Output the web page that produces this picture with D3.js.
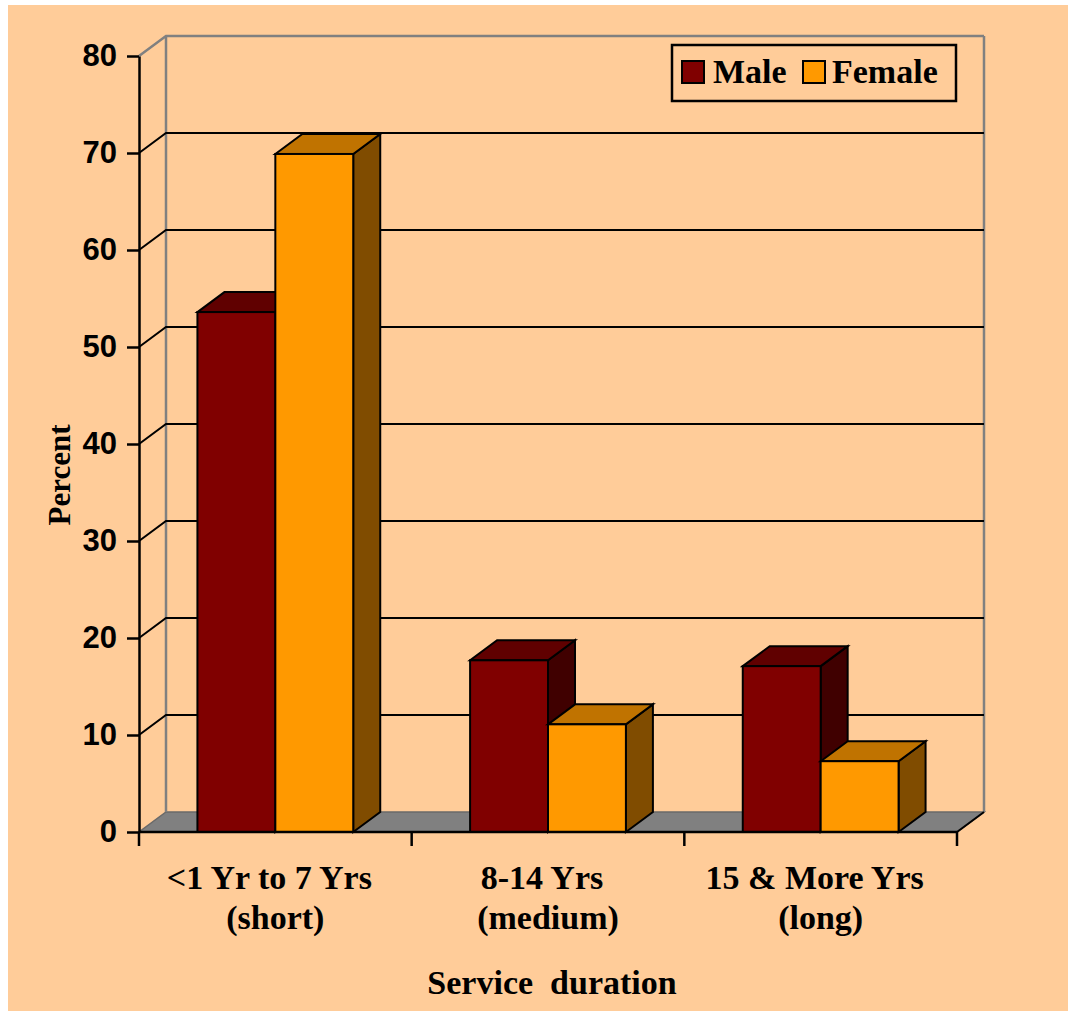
<!DOCTYPE html>
<html>
<head>
<meta charset="utf-8">
<script src="https://cdn.jsdelivr.net/npm/d3@7"></script>
<style>
  html, body { margin: 0; padding: 0; background: #ffffff; }
  svg { display: block; }
</style>
</head>
<body>
<svg id="chart" width="1068" height="1011"></svg>
<script>
// Service duration by gender (percent)
const categories = ["<1 Yr to 7 Yrs|(short)", "8-14 Yrs|(medium)", "15 & More Yrs|(long)"];
const seriesNames = ["Male", "Female"];
const maleValues = [53.6, 17.7, 17.1];
const femaleValues = [69.9, 11.1, 7.3];
const yTicks = [0, 10, 20, 30, 40, 50, 60, 70, 80];

const colors = {
  Male:   { front: "#800000", top: "#600000", side: "#400000" },
  Female: { front: "#FF9900", top: "#C07300", side: "#804C00" }
};

const svg = d3.select("#chart");
const W = 1068, H = 1011;

// page background
svg.append("rect").attr("x", 8).attr("y", 5).attr("width", W - 8).attr("height", H - 5)
  .attr("fill", "#FFCC99");

// 3D depth offset
const DX = 27, DY = -20;
const left = 139, right = 957;

const y = d3.scaleLinear().domain([0, 80]).range([832, 56]);
const x0 = d3.scaleBand().domain(categories).range([left, right]).padding(0);
const x1 = d3.scaleBand().domain(seriesNames).range([0, x0.bandwidth()])
  .paddingInner(0).paddingOuter(0.75);

const data = categories.map((c, i) => ({
  cat: c,
  values: [
    { key: "Male", value: maleValues[i] },
    { key: "Female", value: femaleValues[i] }
  ]
}));

// floor
const y0 = y(0);
svg.append("path")
  .attr("d", `M${left},${y0} L${right},${y0} L${right + DX},${y0 + DY} L${left + DX},${y0 + DY} Z`)
  .attr("fill", "#808080").attr("stroke", "#6a6a6a").attr("stroke-width", 1.5);

// back wall and side wall outlines
const gWall = svg.append("g");
gWall.append("line")
  .attr("x1", left + DX).attr("x2", left + DX)
  .attr("y1", y(80) + DY).attr("y2", y0 + DY)
  .attr("stroke", "#808080").attr("stroke-width", 2.5);
gWall.append("line")
  .attr("x1", right + DX).attr("x2", right + DX)
  .attr("y1", y(80) + DY).attr("y2", y0 + DY)
  .attr("stroke", "#808080").attr("stroke-width", 2.5);

// gridlines (side wall diagonal + back wall)
yTicks.filter(v => v > 0).forEach(v => {
  const yy = y(v);
  gWall.append("path")
    .attr("d", `M${left},${yy} L${left + DX},${yy + DY} L${right + DX},${yy + DY}`)
    .attr("fill", "none")
    .attr("stroke", v === 80 ? "#808080" : "#000")
    .attr("stroke-width", v === 80 ? 2.5 : 2);
});

// bars
const gBars = svg.append("g");
data.forEach(d => {
  d.values.forEach(s => {
    const bx = x0(d.cat) + x1(s.key);
    const bw = x1.bandwidth();
    const top = y(s.value);
    const c = colors[s.key];
    const g = gBars.append("g").attr("stroke", "#000").attr("stroke-width", 2)
      .attr("stroke-linejoin", "miter");
    // side face
    g.append("path")
      .attr("d", `M${bx + bw},${y0} L${bx + bw + DX},${y0 + DY} L${bx + bw + DX},${top + DY} L${bx + bw},${top} Z`)
      .attr("fill", c.side);
    // top face
    g.append("path")
      .attr("d", `M${bx},${top} L${bx + DX},${top + DY} L${bx + bw + DX},${top + DY} L${bx + bw},${top} Z`)
      .attr("fill", c.top);
    // front face
    g.append("rect")
      .attr("x", bx).attr("y", top).attr("width", bw).attr("height", y0 - top)
      .attr("fill", c.front);
  });
});

// y axis
const yAxis = d3.axisLeft(y).tickValues(yTicks).tickSize(12).tickSizeOuter(0).tickPadding(10);
const gy = svg.append("g").attr("transform", `translate(${left},0)`).call(yAxis);
gy.select(".domain").attr("stroke", "#000").attr("stroke-width", 2.5);
gy.selectAll(".tick line").attr("stroke", "#000").attr("stroke-width", 2.5);
gy.selectAll(".tick text")
  .attr("fill", "#000")
  .style("font-family", "'Liberation Sans', Arial, sans-serif")
  .style("font-weight", "bold")
  .style("font-size", "31px");

// x axis line and boundary ticks
const gx = svg.append("g");
gx.append("line").attr("x1", left).attr("x2", right).attr("y1", y0).attr("y2", y0)
  .attr("stroke", "#000").attr("stroke-width", 2.5);
const bounds = categories.map(c => x0(c)).concat([x0(categories[categories.length - 1]) + x0.bandwidth()]);
gx.selectAll("line.bt").data(bounds).join("line").attr("class", "bt")
  .attr("x1", d => d).attr("x2", d => d).attr("y1", y0).attr("y2", y0 + 14)
  .attr("stroke", "#000").attr("stroke-width", 2.5);
svg.append("line").attr("x1", right).attr("x2", right + DX).attr("y1", y0).attr("y2", y0 + DY)
  .attr("stroke", "#000").attr("stroke-width", 2);

// category labels
const serif = "'Liberation Serif', 'Times New Roman', serif";
const gl = svg.append("g")
  .style("font-family", serif).style("font-weight", "bold").style("font-size", "34px")
  .attr("text-anchor", "middle").attr("fill", "#000");
categories.forEach(c => {
  const cx = x0(c) + x0.bandwidth() / 2;
  const lines = c.split("|");
  gl.append("text").attr("x", cx - 6).attr("y", 889).text(lines[0]);
  gl.append("text").attr("x", cx).attr("y", 929).text(lines[1]);
});

// axis titles
svg.append("text").attr("x", 552).attr("y", 994)
  .attr("text-anchor", "middle").attr("fill", "#000")
  .style("font-family", serif).style("font-weight", "bold").style("font-size", "34px")
  .style("white-space", "pre").attr("xml:space", "preserve")
  .text("Service  duration");
svg.append("text")
  .attr("transform", "translate(70,475) rotate(-90)")
  .attr("text-anchor", "middle").attr("fill", "#000")
  .style("font-family", serif).style("font-weight", "bold").style("font-size", "31px")
  .text("Percent");

// legend
const gLeg = svg.append("g");
gLeg.append("rect").attr("x", 672).attr("y", 45).attr("width", 284).attr("height", 56)
  .attr("fill", "#FFCC99").attr("stroke", "#000").attr("stroke-width", 2.5);
const legPos = [{ sx: 682, tx: 713 }, { sx: 803, tx: 832 }];
seriesNames.forEach((s, i) => {
  gLeg.append("rect").attr("x", legPos[i].sx).attr("y", 61).attr("width", 22).attr("height", 22)
    .attr("fill", colors[s].front).attr("stroke", "#000").attr("stroke-width", 2);
  gLeg.append("text").attr("x", legPos[i].tx).attr("y", 83).attr("fill", "#000")
    .style("font-family", serif).style("font-weight", "bold").style("font-size", "34px")
    .text(s);
});
</script>
</body>
</html>
